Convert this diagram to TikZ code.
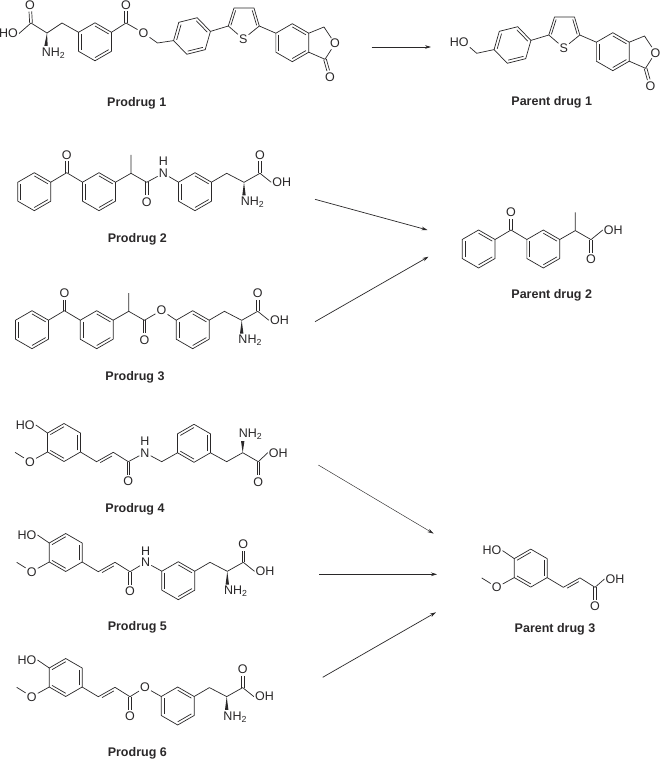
\documentclass[tikz,border=0pt]{standalone}
\usepackage{fontspec}
\setmainfont{Liberation Sans}
\usetikzlibrary{calc,arrows.meta}
\definecolor{ink}{HTML}{2A2829}
\tikzset{
  atom/.style={text=ink,font=\fontsize{12.5}{12.5}\selectfont,inner sep=.8pt},
  title/.style={text=ink,font=\fontsize{12.5}{13}\selectfont\bfseries,inner sep=0pt,yshift=-1.3pt},
  arr/.style={draw=ink,line width=.7pt,-{Stealth[length=6pt,width=3.6pt]}}
}
\newcommand\dblb[2]{\draw[shorten >=6.5pt] ($(#1)!1.35pt!90:(#2)$) -- ($(#2)!1.35pt!-90:(#1)$);
  \draw[shorten >=6.5pt] ($(#1)!1.35pt!-90:(#2)$) -- ($(#2)!1.35pt!90:(#1)$);}
\newcommand\hexa[4]{%
  \coordinate (#1c) at (#2,#3);
  \foreach \k in {1,...,6}{\coordinate (#1\k) at ({#2+19*cos(#4+60*(\k-1))},{#3-19*sin(#4+60*(\k-1))});}
  \draw (#11)--(#12)--(#13)--(#14)--(#15)--(#16)--cycle;}
\newcommand\ib[3]{\draw ($(#1)!.17!(#3)$) -- ($(#2)!.17!(#3)$);}
\newcommand\patA[1]{\ib{#11}{#16}{#1c}\ib{#12}{#13}{#1c}\ib{#14}{#15}{#1c}}
\newcommand\patB[1]{\ib{#11}{#12}{#1c}\ib{#15}{#16}{#1c}\ib{#13}{#14}{#1c}}
% benzoylphenyl propanoyl
\newcommand\ketoFrag{%
  \hexa{a}{34.3}{191.7}{90}\patA{a}
  \hexa{b}{99}{191.7}{90}\patA{b}
  \coordinate (kc) at (66.7,172.7);
  \node[atom] (kO) at (66.7,155) {O};
  \draw (a6)--(kc)--(b2);
  \dblb{kc}{kO}
  \coordinate (ch) at (131,173.3);
  \coordinate (me) at (131,155);
  \coordinate (acyl) at (146.7,182.3);
  \node[atom] (aO) at (146.7,201.7) {O};
  \draw (b6)--(ch)--(me);
  \draw (ch)--(acyl);
  \dblb{acyl}{aO}}
% phenylalanine part, NH2 below
\newcommand\aaFrag{%
  \hexa{c}{195}{191.7}{90}\patA{c}
  \coordinate (cb) at (226.7,173.3);
  \coordinate (ca) at (244,182.3);
  \coordinate (cc) at (260,173.3);
  \node[atom] (cO) at (260,155) {O};
  \node[atom] (cOH) at (281.7,182.3) {OH};
  \node[atom] (cN) at (252.5,202.5) {NH\textsubscript{2}};
  \draw (c6)--(cb)--(ca)--(cc);
  \dblb{cc}{cO}
  \draw (cc)--(cOH.west);
  \fill[ink] (ca)--(245.7,195.5)--(242.3,195.5)--cycle;}
% feruloyl
\newcommand\ferFrag{%
  \hexa{d}{65.7}{552.5}{90}\patB{d}
  \node[atom] (hO) at (27,535) {HO};
  \node[atom] (mO) at (31.7,571.7) {O};
  \coordinate (mC) at (16.7,562.3);
  \coordinate (v1) at (98.3,571.7);
  \coordinate (v2) at (115,562.3);
  \coordinate (acyl) at (130,571.7);
  \node[atom] (aO) at (130,591) {O};
  \draw (d2)--(hO.east);
  \draw (d3)--(mO)--(mC);
  \draw (d5)--(v1)--(v2)--(acyl);
  \draw ($(v1)!.15!(v2)!2.6pt!-90:(v2)$) -- ($(v2)!.15!(v1)!2.6pt!90:(v1)$);
  \dblb{acyl}{aO}}
% hydroxymethylphenyl-thienyl-phthalide
\newcommand\tailFrag{%
  \hexa{b}{192}{36}{14}\patB{b}
  \coordinate (t2) at (228.3,26);
  \coordinate (t3) at (234,8);
  \coordinate (t4) at (254,8);
  \coordinate (t5) at (259.3,26);
  \coordinate (tc) at (243.7,22);
  \node[atom] (tS) at (243.3,39) {S};
  \draw (b1)--(t2)--(t3)--(t4)--(t5)--(tS)--(t2);
  \ib{t2}{t3}{tc}\ib{t4}{t5}{tc}
  \hexa{e}{292.3}{42.7}{90}\patA{e}
  \draw (t5)--(e2);
  \coordinate (lc) at (324,27);
  \node[atom] (lO) at (335,43.7) {O};
  \coordinate (lk) at (325,59.3);
  \node[atom] (kO) at (330,77) {O};
  \draw (e6)--(lc)--(lO)--(lk)--(e5);
  \dblb{lk}{kO}}
\begin{document}
\begin{tikzpicture}[x=1pt,y=-1pt,color=ink,line width=.7pt,line join=round]
\useasboundingbox (0,0) rectangle (660,759);
\fill[white] (0,0) rectangle (660,759);

% Prodrug 1
\begin{scope}[name prefix=p1-]
  \tailFrag
  \hexa{r}{95}{41.8}{90}\patA{r}
  \node[atom] (HO) at (8.5,33.5) {HO};
  \node[atom] (Ot) at (30,5) {O};
  \coordinate (C) at (31,23);
  \coordinate (Ca) at (47,33);
  \coordinate (Cb) at (62,23);
  \node[atom] (NH) at (53.5,53) {NH\textsubscript{2}};
  \coordinate (E) at (126,23);
  \node[atom] (Oe) at (126,5) {O};
  \node[atom] (Os) at (143.5,33) {O};
  \coordinate (Ch) at (157.5,43);
  \draw (HO.east)--(C)--(Ca)--(Cb)--(r2);
  \dblb{C}{Ot}
  \fill[ink] (Ca)--(47.7,46)--(44.3,46)--cycle;
  \draw (r6)--(E)--(Os)--(Ch)--(b4);
  \dblb{E}{Oe}
\end{scope}
\node[title] (t1) at (136.7,101.7) {Prodrug 1};

% Parent drug 1
\begin{scope}[shift={(320.5,9)},name prefix=q1-]
  \tailFrag
\end{scope}
\node[atom] (q1HO) at (459.3,41.7) {HO};
\coordinate (q1C) at (476.7,53.3);
\draw (q1HO.south east)--(q1C)--(q1-b4);
\node[title] (t2) at (551.7,101) {Parent drug 1};

% Prodrug 2
\begin{scope}[name prefix=p2-]
  \ketoFrag
  \aaFrag
  \node[atom] (N) at (163.3,173.3) {N};
  \node[atom] (H) at (163.3,161.5) {H};
  \draw (acyl)--(N)--(c2);
\end{scope}
\node[title] (t3) at (137.3,237.7) {Prodrug 2};

% Prodrug 3
\begin{scope}[shift={(-2.3,138)},name prefix=p3-]
  \ketoFrag
  \aaFrag
  \node[atom] (O) at (163.8,172.3) {O};
  \draw (acyl)--(O)--(c2);
\end{scope}
\node[title] (t4) at (135,375.7) {Prodrug 3};

% Parent drug 2
\begin{scope}[shift={(444.3,57.3)},name prefix=q2-]
  \ketoFrag
  \node[atom] (OH) at (169,172.7) {OH};
  \draw (acyl)--(OH.west);
\end{scope}
\node[title] (t5) at (551.7,294.3) {Parent drug 2};

% Prodrug 4
\begin{scope}[shift={(-1.7,-110)},name prefix=p4-]
  \ferFrag
\end{scope}
\hexa{p4r}{194}{443.3}{90}\patB{p4r}
\node[atom] (p4N) at (145,452.7) {N};
\node[atom] (p4H) at (145,441.5) {H};
\coordinate (p4ch) at (161.7,461.7);
\coordinate (p4cb) at (226.7,461.7);
\coordinate (p4ca) at (242.7,452.7);
\coordinate (p4cc) at (258.3,461.7);
\node[atom] (p4O) at (258.3,481.7) {O};
\node[atom] (p4OH) at (278.3,452.7) {OH};
\node[atom] (p4NH) at (250.5,434.5) {NH\textsubscript{2}};
\draw (p4-acyl)--(p4N)--(p4ch)--(p4r3);
\draw (p4r5)--(p4cb)--(p4ca)--(p4cc);
\dblb{p4cc}{p4O}
\draw (p4cc)--(p4OH.west);
\fill[ink] (p4ca)--(244.4,441)--(241,441)--cycle;
\node[title] (t6) at (135,507.7) {Prodrug 4};

% Prodrug 5
\begin{scope}[name prefix=p5-]
  \ferFrag
\end{scope}
\begin{scope}[shift={(-16.7,389)},name prefix=p5b-]
  \aaFrag
\end{scope}
\node[atom] (p5N) at (145.7,562.3) {N};
\node[atom] (p5H) at (145.7,551) {H};
\draw (p5-acyl)--(p5N)--(p5b-c2);
\node[title] (t7) at (137.3,625.7) {Prodrug 5};

% Prodrug 6
\begin{scope}[shift={(0,125)},name prefix=p6-]
  \ferFrag
\end{scope}
\begin{scope}[shift={(-17.3,514.3)},name prefix=p6b-]
  \aaFrag
\end{scope}
\node[atom] (p6O) at (145,687.3) {O};
\draw (p6-acyl)--(p6O)--(p6b-c2);
\node[title] (t8) at (137.3,752.3) {Prodrug 6};

% Parent drug 3
\begin{scope}[shift={(465,15.6)},name prefix=q3-]
  \ferFrag
  \node[atom] (OH) at (150,563.4) {OH};
  \draw (acyl)--(OH.west);
\end{scope}
\node[title] (t9) at (555,627.7) {Parent drug 3};

% Arrows
\coordinate (A1s) at (371.7,47); \coordinate (A1e) at (431,47);
\coordinate (A2s) at (315,199.3); \coordinate (A2e) at (427.5,230);
\coordinate (A3s) at (315,321.7); \coordinate (A3e) at (428.5,256.7);
\coordinate (A4s) at (318.3,465); \coordinate (A4e) at (433.5,533.5);
\coordinate (A5s) at (319,574.3); \coordinate (A5e) at (437,574.3);
\coordinate (A6s) at (322.7,677.3); \coordinate (A6e) at (436,612.3);
\draw[arr] (A1s)--(A1e);
\draw[arr] (A2s)--(A2e);
\draw[arr] (A3s)--(A3e);
\draw[arr,line width=.45pt] (A4s)--(A4e);
\draw[arr] (A5s)--(A5e);
\draw[arr] (A6s)--(A6e);
\end{tikzpicture}
\end{document}
